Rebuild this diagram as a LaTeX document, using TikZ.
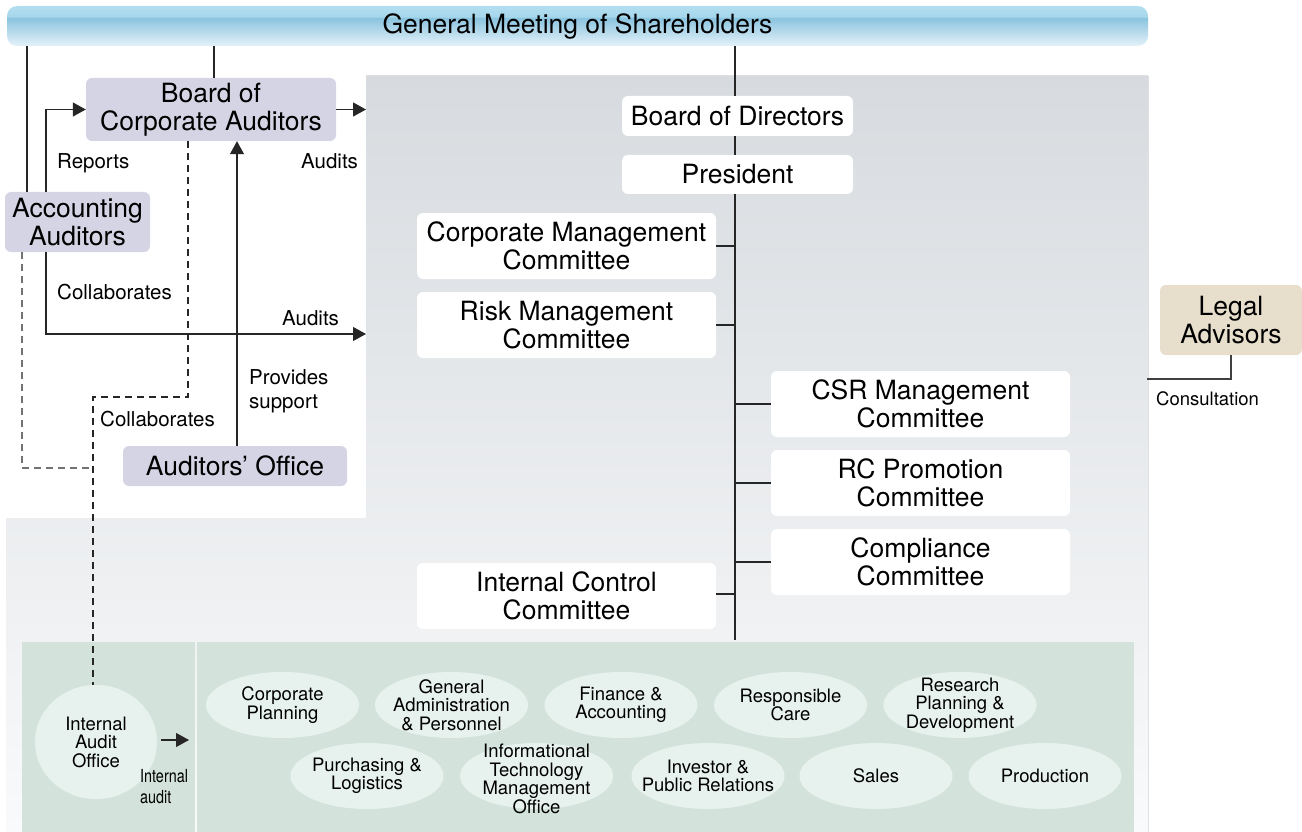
\documentclass[tikz,border=0pt]{standalone}
\usepackage{fontspec}
\setmainfont{TeX Gyre Heros}
\newfontfamily\narrowfont[FakeStretch=0.8]{TeX Gyre Heros}
\usetikzlibrary{shapes.geometric,arrows.meta}

\definecolor{lav}{HTML}{D4D4E4}
\definecolor{tanbox}{HTML}{E7DFCC}
\definecolor{greenbg}{HTML}{D3E3DC}
\definecolor{ellfill}{HTML}{E7F2EF}
\definecolor{graytop}{HTML}{D7DBDF}
\definecolor{graymid}{HTML}{EBEDEF}
\definecolor{graybot}{HTML}{F9FAFB}
\definecolor{bartop}{HTML}{B3DEF0}
\definecolor{barhi}{HTML}{A6D6EB}
\definecolor{barmid}{HTML}{8AC3DF}
\definecolor{barlow}{HTML}{E4F2F9}

% banner shading: light cap, darker band, fading to pale blue
\pgfdeclareverticalshading{barshade}{100bp}{color(0bp)=(barlow); color(25bp)=(barlow); color(60.5bp)=(barmid); color(61.5bp)=(barhi); color(75bp)=(bartop); color(100bp)=(bartop)}

\newcommand\mainsz{\fontsize{26.5}{28}\selectfont}
\newcommand\lblsz{\fontsize{20.5}{24}\selectfont}
\newcommand\unitsz{\fontsize{18.5}{18.5}\selectfont}
\newcommand\tinysz{\narrowfont\fontsize{18}{21}\selectfont}

\begin{document}
\begin{tikzpicture}[x=1pt,y=-1pt,
  ln/.style={line width=1.1pt, draw=black!85},
  arr/.style={ln, -{Triangle[length=13pt,width=14pt]}},
  dsh/.style={line width=1.1pt, dash pattern=on 7pt off 5pt},
  banner/.style={shading=barshade, rounded corners=10pt, minimum width=1141pt, minimum height=40pt, inner sep=0pt, font=\mainsz},
  lavbox/.style={fill=lav, rounded corners=6pt, align=center, inner sep=0pt, font=\mainsz},
  wbox/.style={fill=white, rounded corners=6pt, align=center, inner sep=0pt, font=\mainsz, minimum width=299pt, minimum height=66pt},
  unit/.style={ellipse, fill=ellfill, minimum width=153pt, minimum height=66pt, inner sep=0pt},
  utext/.style={align=center, inner sep=0pt, font=\unitsz},
  lbl/.style={inner sep=0pt, font=\lblsz, align=left},
]
\useasboundingbox (0,0) rectangle (1302,832);

% ---- background areas ----
\fill[top color=graytop, middle color=graymid, bottom color=graybot]
  (366,76) -- (1148,76) -- (1148,832) -- (6,832) -- (6,518) -- (366,518) -- cycle;
\fill[greenbg] (22,642) rectangle (195,832);
\fill[greenbg] (197,642) rectangle (1134,832);

% ---- banner ----
\node[banner] (gms) at (577.5,26) {General Meeting of Shareholders};

% ---- auditing side ----
\node[lavbox, minimum width=250pt, minimum height=63pt] (bca) at (211,109.5) {Board of\\Corporate Auditors};
\node[lavbox, minimum width=145pt, minimum height=60pt] (acc) at (77.5,222) {Accounting\\Auditors};
\node[lavbox, minimum width=224pt, minimum height=40pt] (aud) at (235,466) {Auditors’ Office};

% ---- management side ----
\node[wbox, minimum width=231pt, minimum height=40pt] (bod) at (737.5,116) {Board of Directors};
\node[wbox, minimum width=231pt, minimum height=39pt] (pres) at (737.5,174.5) {President};
\node[wbox] (cmc) at (566.5,246) {Corporate Management\\Committee};
\node[wbox] (rmc) at (566.5,325) {Risk Management\\Committee};
\node[wbox] (csr) at (920.5,404) {CSR Management\\Committee};
\node[wbox] (rcp) at (920.5,483) {RC Promotion\\Committee};
\node[wbox] (cmp) at (920.5,562) {Compliance\\Committee};
\node[wbox] (icc) at (566.5,596) {Internal Control\\Committee};

\node[lavbox, fill=tanbox, minimum width=142pt, minimum height=70pt] (legal) at (1231,320) {Legal\\Advisors};

% ---- operating units ----
\node[unit, minimum width=122pt, minimum height=114pt,
  label={[utext]center:Internal\\Audit\\Office}] (iao) at (96,742) {};
\node[unit, label={[utext]center:Corporate\\Planning}] (u1) at (282.5,705) {};
\node[unit, label={[utext]center:General\\Administration\\\& Personnel}] (u2) at (451.5,705) {};
\node[unit, label={[utext]center:Finance \&\\Accounting}] (u3) at (621,705) {};
\node[unit, label={[utext]center:Responsible\\Care}] (u4) at (790.5,705) {};
\node[unit, label={[utext]center:Research\\Planning \&\\Development}] (u5) at (960,705) {};
\node[unit, label={[utext]center:Purchasing \&\\Logistics}] (u6) at (367,776) {};
\node[unit, label={[utext, yshift=-3pt]center:Informational\\Technology\\Management\\Office}] (u7) at (536.5,776) {};
\node[unit, label={[utext]center:Investor \&\\Public Relations}] (u8) at (708,776) {};
\node[unit, label={[utext]center:Sales}] (u9) at (876,776) {};
\node[unit, label={[utext]center:Production}] (u10) at (1045,776) {};

% ---- reference coordinates for connector routing ----
\coordinate (xAccTop) at (27,0);
\coordinate (xBcaTop) at (214,0);
\coordinate (spine) at (735,0);
\coordinate (spineEnd) at (735,640);
\coordinate (xRep) at (46,0);
\coordinate (xSup) at (237,0);
\coordinate (xDashA) at (188,0);
\coordinate (xDashB) at (22,0);
\coordinate (jnA) at (93,397);
\coordinate (jnB) at (93,468);
\coordinate (auditHi) at (366,109.5);
\coordinate (auditLo) at (366,334);
\coordinate (consEnd) at (1147,379);
\coordinate (iaoTip) at (189,740);

% ---- connectors ----
\draw[ln] (gms.south -| xAccTop) -- (acc.north -| xAccTop);
\draw[ln] (gms.south -| xBcaTop) -- (bca.north -| xBcaTop);
\draw[ln] (gms.south -| spine) -- (bod.north -| spine);
\draw[ln] (bod.south -| spine) -- (pres.north -| spine);
\draw[ln] (pres.south -| spine) -- (spineEnd);
\draw[ln] (cmc.east) -- (cmc.east -| spine);
\draw[ln] (rmc.east) -- (rmc.east -| spine);
\draw[ln] ([yshift=2pt]icc.east) -- ([yshift=2pt]icc.east -| spine);
\draw[ln] (csr.west -| spine) -- (csr.west);
\draw[ln] (rcp.west -| spine) -- (rcp.west);
\draw[ln] (cmp.west -| spine) -- (cmp.west);

\draw[arr] (bca.east) -- (auditHi);
\draw[arr] (acc.north -| xRep) |- (bca.west);
\draw[arr] (acc.south -| xRep) |- (auditLo);
\draw[arr] (aud.north -| xSup) -- (bca.south -| xSup);

\draw[dsh, black!85] (bca.south -| xDashA) |- (jnA) -- (iao.north -| jnA);
\draw[dsh, black!55] (acc.south -| xDashB) |- (jnB);

\draw[ln, black!75] (legal.south) |- (consEnd);
\draw[arr] ([xshift=4pt]iao.east |- iaoTip) -- (iaoTip);

% ---- connector labels ----
\node[lbl, anchor=base west] (tRep) at (57,168) {Reports};
\node[lbl, anchor=base west] (tAudA) at (301,169) {Audits};
\node[lbl, anchor=base west] (tColA) at (57,299) {Collaborates};
\node[lbl, anchor=base west] (tAudB) at (282,325) {Audits};
\node[lbl, anchor=west] (tSup) at (249,391) {Provides\\support};
\node[lbl, anchor=base west] (tColB) at (100,426) {Collaborates};
\node[lbl, anchor=base west, font=\fontsize{18.5}{22}\selectfont] (tCons) at (1156,405) {Consultation};
\node[lbl, anchor=west, font=\tinysz] (tInt) at (140,787) {Internal\\audit};
\end{tikzpicture}
\end{document}
